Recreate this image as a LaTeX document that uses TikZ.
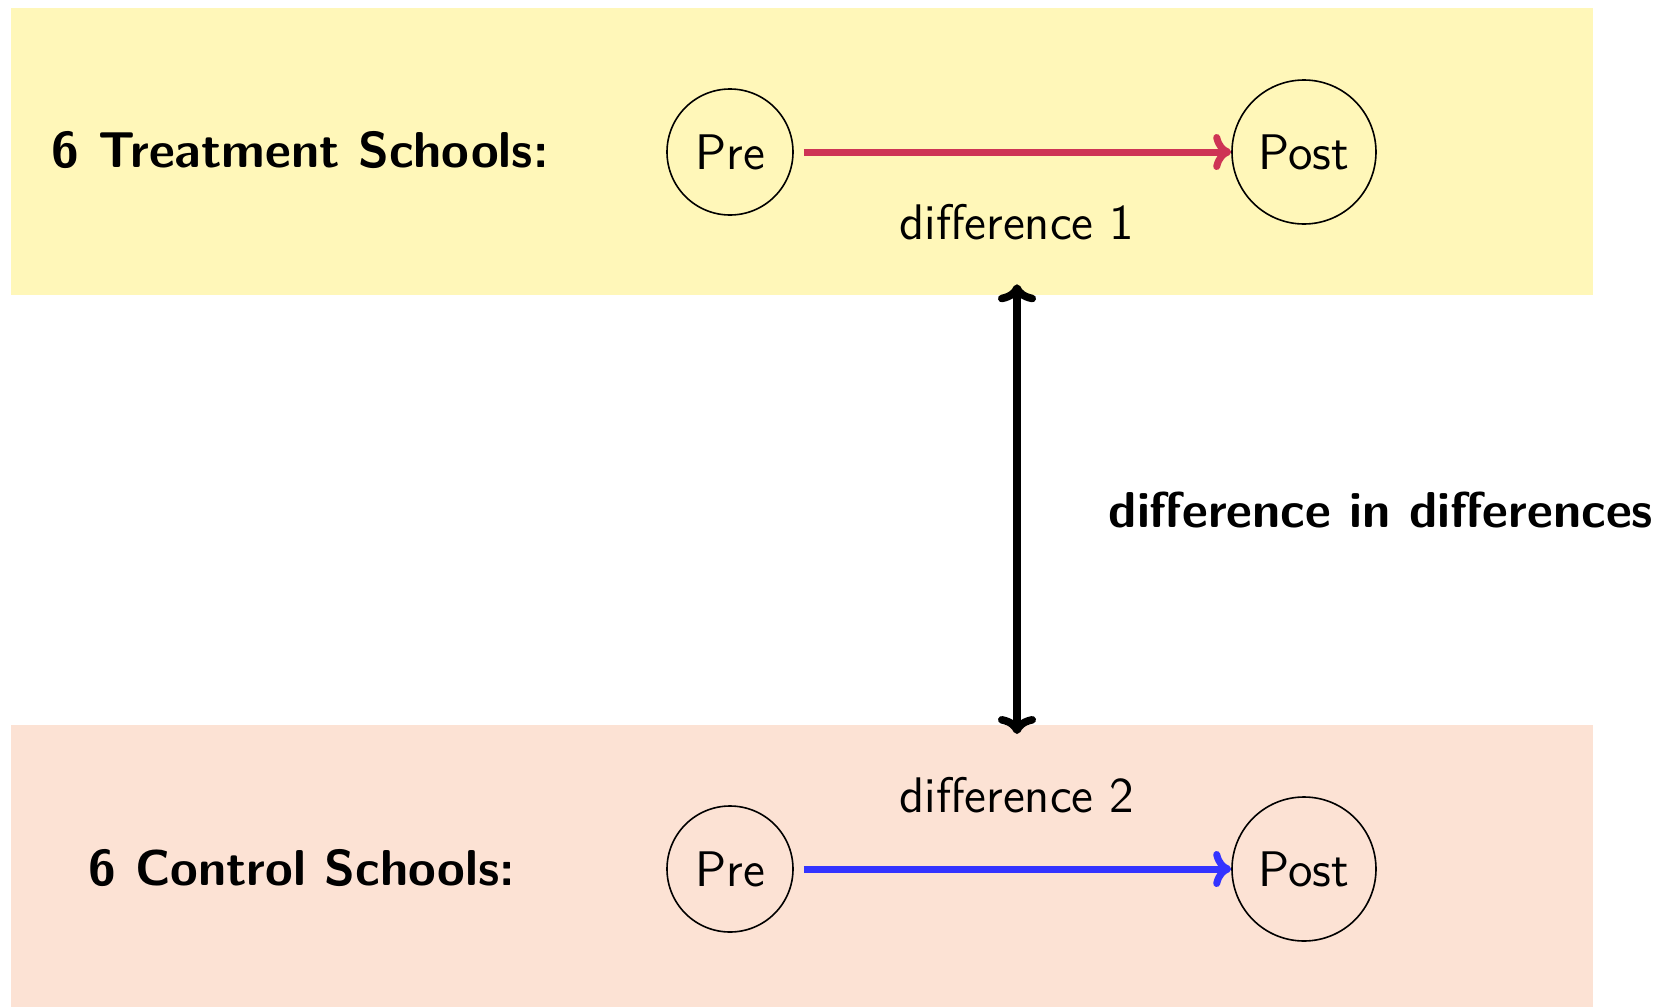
\documentclass[tikz,border=0pt]{standalone}
\usetikzlibrary{arrows.meta}
\definecolor{treatbg}{RGB}{255,247,185}
\definecolor{controlbg}{RGB}{252,226,212}
\definecolor{treatline}{RGB}{206,52,85}
\definecolor{controlline}{RGB}{51,51,255}
\begin{document}
\begin{tikzpicture}[x=0.25pt,y=-0.25pt,
  every node/.style={font=\sffamily\fontsize{12.5}{15}\selectfont},
  group/.style={font=\sffamily\bfseries\fontsize{12.6}{15}\selectfont, anchor=base west, inner sep=0pt},
  phase/.style={draw, circle, line width=0.4pt, inner sep=0pt},
  difflabel/.style={anchor=base, inner sep=0pt},
  trend/.style={line width=1.75pt, -{To[length=4.5pt,width=9pt]}, shorten <=2.5pt},
  compare/.style={line width=1.9pt, {To[length=4.5pt,width=9.5pt]}-{To[length=4.5pt,width=9.5pt]}}
]
\useasboundingbox (0,0) rectangle (1663,1007);

% group backgrounds
\fill[treatbg] (11,8) rectangle (1593,295);
\fill[controlbg] (11,725) rectangle (1593,1007);

% treatment group
\node[group] (tlabel) at (51,167) {6 Treatment Schools:};
\node[phase, minimum size=31.5pt] (tpre) at (730,152) {Pre};
\node[phase, minimum size=36pt] (tpost) at (1304,152) {Post};
\draw[trend, treatline] (tpre) -- (tpost);
\node[difflabel] (d1) at (1017,239) {difference 1};

% control group
\node[group] (clabel) at (88,885) {6 Control Schools:};
\node[phase, minimum size=31.5pt] (cpre) at (730,869) {Pre};
\node[phase, minimum size=36pt] (cpost) at (1304,869) {Post};
\draw[trend, controlline] (cpre) -- (cpost);
\node[difflabel] (d2) at (1017,812) {difference 2};

% comparison between the two changes
\draw[compare] ([yshift=-11pt]d1.south) -- ([yshift=10.5pt]d2.north);
\node[group] (did) at (1108,527) {difference in differences};
\end{tikzpicture}
\end{document}
